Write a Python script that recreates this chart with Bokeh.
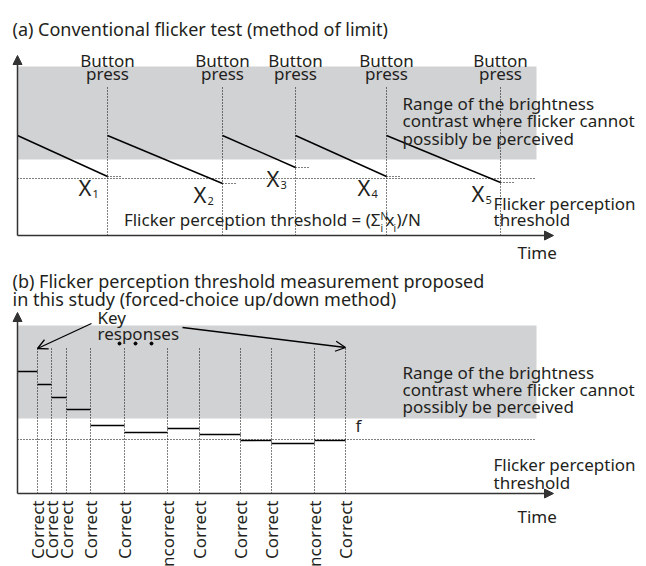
import numpy as np
from bokeh.plotting import figure
from bokeh.models import Range1d, Arrow, NormalHead, OpenHead
from bokeh.core.properties import value
from bokeh.embed import file_html
from bokeh.resources import INLINE

# ---------------- data: panel (a) conventional method of limit ----------------
a_press_times = [9.0, 20.5, 27.8, 36.9, 48.3]          # button presses
a_ramp_starts = [0.0, 9.0, 20.5, 27.8, 36.9]           # start of each descending ramp
a_start_level = 10.0                                    # contrast at ramp start
a_x_values = [5.9, 5.2, 6.8, 5.9, 5.3]                  # contrast at button press (X_i)
a_x_subs = ["1", "2", "3", "4", "5"]
a_threshold = 5.7
a_band_bottom, a_band_top = 7.6, 16.9
a_time_end = 51.9

# ---------------- data: panel (b) forced-choice up/down ----------------
b_response_times = [2.0, 3.4, 4.9, 7.3, 10.7, 15.0, 18.2, 22.3, 25.4, 29.7, 32.8]
b_levels = [12.2, 10.9, 9.6, 8.4, 6.8, 6.1, 6.5, 5.9, 5.3, 5.0, 5.3]
b_responses = ["Correct", "Correct", "Correct", "Correct", "Correct", "Incorrect",
               "Correct", "Correct", "Correct", "Incorrect", "Correct"]
b_threshold = 5.4
b_band_bottom, b_band_top = 7.5, 16.8
b_time_end = 51.9

FONT = value("Noto Sans")
TXT = "#231f20"
GRAY = "#d1d2d4"
FS = "17px"
DOT = "1 2"

p = figure(width=646, height=566, output_backend="svg", toolbar_location=None,
           x_range=Range1d(-1.7, 62.9), y_range=Range1d(-33.1, 23.5),
           x_axis_type=None, y_axis_type=None, min_border=0)
p.extra_y_ranges = {"b": Range1d(-7.3, 49.3)}
p.outline_line_color = None
p.grid.visible = False
p.background_fill_color = "white"


def txt(x, y, t, size=FS, align="left", baseline="alphabetic", rng="default", angle=0):
    p.text(x=x, y=y, text=t, text_font=FONT, text_font_size=size, text_color=TXT,
           text_align=align, text_baseline=baseline, angle=angle, y_range_name=rng)


# ======================= panel (a) =======================
p.quad(left=[0], right=[a_time_end], bottom=[a_band_bottom], top=[a_band_top],
       fill_color=GRAY, line_color=None)
p.segment(x0=[0], y0=[a_threshold], x1=[a_time_end], y1=[a_threshold],
          line_color="black", line_dash=DOT, line_width=1)
p.segment(x0=a_press_times, y0=[0] * 5, x1=a_press_times, y1=[14.8] * 5,
          line_color="black", line_dash=DOT, line_width=1)
p.segment(x0=a_press_times, y0=a_x_values, x1=[t + 1.3 for t in a_press_times], y1=a_x_values,
          line_color="black", line_dash=DOT, line_width=1)
p.segment(x0=a_ramp_starts, y0=[a_start_level] * 5, x1=a_press_times, y1=a_x_values,
          line_color="black", line_width=1.4)

p.add_layout(Arrow(x_start=0, y_start=0, x_end=0, y_end=18.0, line_width=1.5, line_color="#333",
                   end=NormalHead(size=9, fill_color="#333", line_color="#333")))
p.add_layout(Arrow(x_start=0, y_start=0, x_end=53.6, y_end=0, line_width=1.5, line_color="#333",
                   end=NormalHead(size=9, fill_color="#333", line_color="#333")))

txt([-0.5], [20.7], ["(a) Conventional flicker test (method of limit)"], size="18px")
txt(a_press_times, [17.5] * 5, ["Button"] * 5, align="center")
txt(a_press_times, [16.2] * 5, ["press"] * 5, align="center")
txt([t - 2.9 for t in a_press_times], [v - 1.05 for v in a_x_values], ["X"] * 5, size="22px")
txt([t - 1.5 for t in a_press_times], [v - 1.7 for v in a_x_values], a_x_subs, size="11px")
txt([38.5] * 3, [13.2, 11.47, 9.74],
    ["Range of the brightness", "contrast where flicker cannot", "possibly be perceived"])
txt([47.6, 47.6], [3.23, 1.57], ["Flicker perception", "threshold"])
txt([36.3], [1.6], ["Flicker perception threshold = (\u03a3"], align="right")
txt([36.3], [2.0], ["N"], size="10px")
txt([36.3], [0.8], ["i"], size="10px")
txt([36.8], [1.6], ["x"])
txt([37.6], [0.8], ["i"], size="10px")
txt([37.9], [1.6], [")/N"])
txt([50.0], [-1.67], ["Time"])

# ======================= panel (b) =======================
p.quad(left=[0], right=[b_time_end], bottom=[b_band_bottom], top=[b_band_top],
       fill_color=GRAY, line_color=None, y_range_name="b")
p.segment(x0=[0], y0=[b_threshold], x1=[b_time_end], y1=[b_threshold],
          line_color="black", line_dash=DOT, line_width=1, y_range_name="b")
n = len(b_response_times)
p.segment(x0=b_response_times, y0=[0] * n, x1=b_response_times, y1=[14.5] * n,
          line_color="black", line_dash=DOT, line_width=1, y_range_name="b")
p.segment(x0=[0] + b_response_times[:-1], y0=b_levels, x1=b_response_times, y1=b_levels,
          line_color="black", line_width=1.4, y_range_name="b")

p.add_layout(Arrow(x_start=0, y_start=0, x_end=0, y_end=18.1, line_width=1.5, line_color="#333",
                   y_range_name="b",
                   end=NormalHead(size=9, fill_color="#333", line_color="#333")))
p.add_layout(Arrow(x_start=0, y_start=0, x_end=53.6, y_end=0, line_width=1.5, line_color="#333",
                   y_range_name="b",
                   end=NormalHead(size=9, fill_color="#333", line_color="#333")))
p.add_layout(Arrow(x_start=7.4, y_start=17.0, x_end=b_response_times[0], y_end=14.5,
                   line_width=1.3, line_color="black", y_range_name="b",
                   end=OpenHead(size=10, line_width=1.3, line_color="black")))
p.add_layout(Arrow(x_start=16.5, y_start=16.6, x_end=b_response_times[-1], y_end=14.6,
                   line_width=1.3, line_color="black", y_range_name="b",
                   end=OpenHead(size=10, line_width=1.3, line_color="black")))
p.scatter(x=[10.2, 11.8, 13.4], y=[15.0] * 3, size=3, color="black", y_range_name="b")

txt([-0.5, -0.5], [21.3, 19.5], ["(b) Flicker perception threshold measurement proposed",
                                 "in this study (forced-choice up/down method)"],
    size="18px", rng="b")
txt([8.0, 8.0], [17.6, 16.0], ["Key", "responses"], rng="b")
txt([33.8], [6.8], ["f"], rng="b")
txt([38.5] * 3, [12.13, 10.4, 8.67],
    ["Range of the brightness", "contrast where flicker cannot", "possibly be perceived"], rng="b")
txt([47.6, 47.6], [2.87, 1.14], ["Flicker perception", "threshold"], rng="b")
txt([50.0], [-2.27], ["Time"], rng="b")
txt(b_response_times, [-0.7] * n, b_responses, align="right", baseline="middle", rng="b",
    angle=np.pi / 2)

open("out.html", "w").write(file_html(p, INLINE))
